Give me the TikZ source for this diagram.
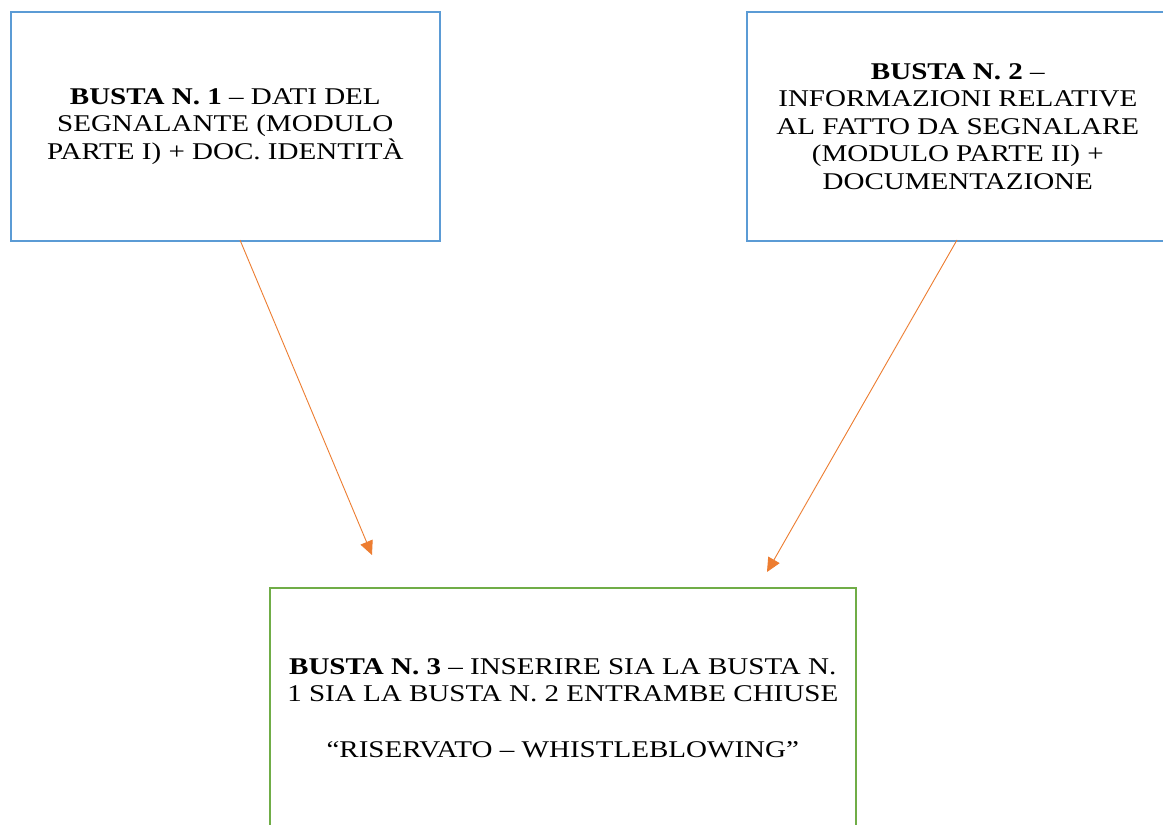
\documentclass[tikz,border=0pt]{standalone}
\usepackage{fontspec}
\setmainfont[FakeStretch=1.21]{Liberation Serif}
\usetikzlibrary{arrows.meta}
\definecolor{boxblue}{HTML}{5B9BD5}
\definecolor{boxgreen}{HTML}{70AD47}
\definecolor{arrorange}{HTML}{ED7D31}
\begin{document}
\begin{tikzpicture}[x=1pt,y=-1pt,
  box/.style={draw, line width=1.6pt, anchor=north west, inner sep=0pt, align=center,
    font=\fontsize{24}{27.5}\selectfont},
  conn/.style={draw=arrorange, line width=0.9pt, -{Triangle[length=14pt,width=13pt]}, arrorange}]
\useasboundingbox (0,0) rectangle (1163,825);
\clip (0,0) rectangle (1163,825);
\fill[white] (0,0) rectangle (1163,825);
\node[box, draw=boxblue, minimum width=429pt, minimum height=229pt] (b1) at (10,11)
  {\textbf{BUSTA N. 1} – DATI DEL\\SEGNALANTE (MODULO\\PARTE I) + DOC. IDENTITÀ};
\node[box, draw=boxblue, minimum width=422pt, minimum height=229pt] (b2) at (746,11)
  {\textbf{BUSTA N. 2} –\\INFORMAZIONI RELATIVE\\AL FATTO DA SEGNALARE\\(MODULO PARTE II) +\\DOCUMENTAZIONE};
\node[box, draw=boxgreen, minimum width=586pt, minimum height=240pt] (b3) at (269,587)
  {\textbf{BUSTA N. 3} – INSERIRE SIA LA BUSTA N.\\1 SIA LA BUSTA N. 2 ENTRAMBE CHIUSE\\[28pt]“RISERVATO – WHISTLEBLOWING”};
\coordinate (s1) at (240,240);
\coordinate (e1) at (372,555);
\coordinate (s2) at (957,240);
\coordinate (e2) at (767,572);
\draw[conn] (s1) -- (e1);
\draw[conn] (s2) -- (e2);
\end{tikzpicture}
\end{document}
